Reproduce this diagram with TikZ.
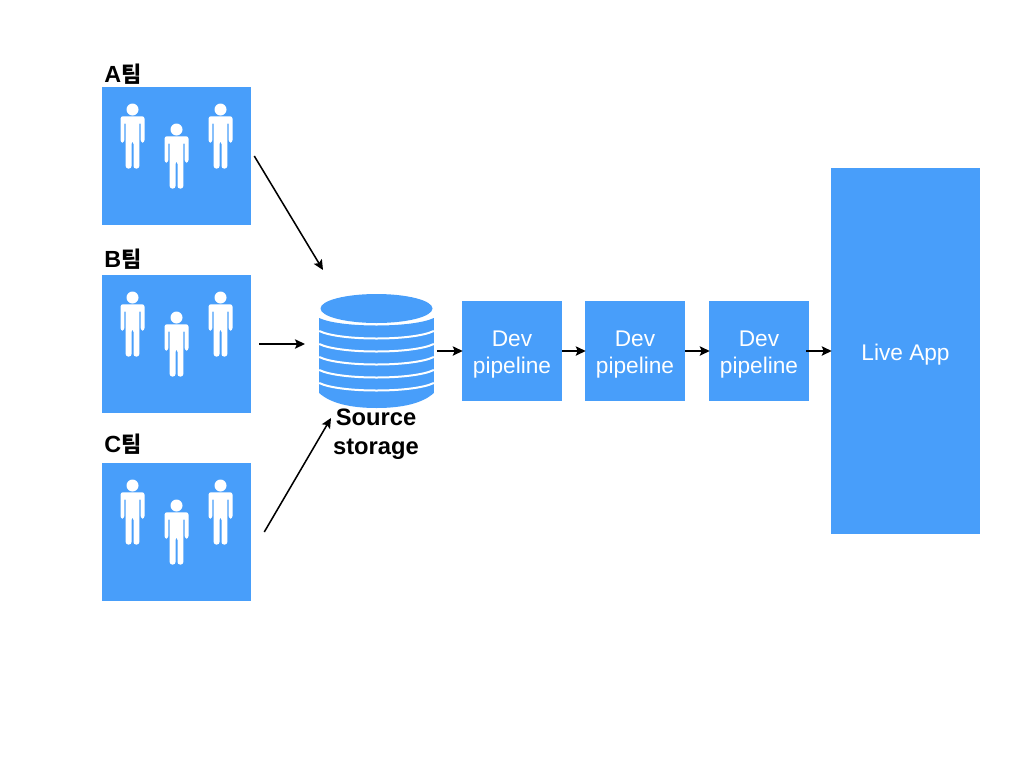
\documentclass[tikz,border=0pt]{standalone}
\usepackage{fontspec}
\setmainfont{Liberation Sans}
\newfontfamily\cjk{Noto Sans CJK KR}
\usetikzlibrary{arrows.meta}
\definecolor{boxblue}{RGB}{72,158,250}
\tikzset{
  bluebox/.style={fill=boxblue,inner sep=0pt,text=white,align=center,font=\fontsize{17}{20.25}\selectfont,execute at begin node=\rule{0pt}{18pt}},
  teambox/.style={fill=boxblue,inner sep=0pt,minimum width=111.75pt,minimum height=103.5pt},
  devbox/.style={bluebox,minimum width=75pt,minimum height=75pt,execute at begin node=\rule{0pt}{38pt}},
  teamlabel/.style={inner sep=0pt,anchor=base west,font=\fontsize{17.5}{20}\selectfont\bfseries},
  flow/.style={-{Stealth[length=7.5pt,width=7pt,inset=1.5pt]},line width=1.15pt},
  person/.pic={
    \fill[white] (0,0) circle (6);
    \fill[white,rounded corners=1.8] (-12,-6.8) -- (12,-6.8) -- (12,-33) -- (8.2,-33) -- (8.2,-12.5) -- (6.8,-12.5) -- (6.8,-59) -- (1,-59) -- (1,-32) -- (-1,-32) -- (-1,-59) -- (-6.8,-59) -- (-6.8,-12.5) -- (-8.2,-12.5) -- (-8.2,-33) -- (-12,-33) -- cycle ;
  },
  band/.style={draw=white,line width=1.5pt}
}
\begin{document}
\begin{tikzpicture}[x=0.75pt,y=0.75pt,yscale=-1,xscale=1]
\useasboundingbox (0,0) rectangle (1024,768);

%Team boxes
\node[teambox] (teamA) at (176.5,156) {};
\node[teambox] (teamB) at (176.5,344) {};
\node[teambox] (teamC) at (176.5,532) {};
\node[teamlabel] (labelA) at (104,82) {A{\cjk\fontsize{16.5}{20}\selectfont\bfseries 팀}};
\node[teamlabel] (labelB) at (104,267) {B{\cjk\fontsize{16.5}{20}\selectfont\bfseries 팀}};
\node[teamlabel] (labelC) at (104,452) {C{\cjk\fontsize{16.5}{20}\selectfont\bfseries 팀}};

%People
\pic at (132.5,109.5) {person};
\pic at (176.5,129.5) {person};
\pic at (220.5,109.5) {person};
\pic at (132.5,297.5) {person};
\pic at (176.5,317.5) {person};
\pic at (220.5,297.5) {person};
\pic at (132.5,485.5) {person};
\pic at (176.5,505.5) {person};
\pic at (220.5,485.5) {person};

%Source storage
\node[inner sep=0pt,minimum width=86.25pt,minimum height=86.25pt] (storage) at (376.5,351) {};
\fill[boxblue] (319.2,318) -- (319.2,393) .. controls (330,403) and (350,408) .. (376.5,408) .. controls (403,408) and (423,403) .. (433.8,393) -- (433.8,318) .. controls (413,328) and (340,328) .. (319.2,318) -- cycle ;
\draw[band] (319.2,331) .. controls (340,341) and (413,341) .. (433.8,331) ;
\draw[band] (319.2,344) .. controls (340,354) and (413,354) .. (433.8,344) ;
\draw[band] (319.2,357) .. controls (340,367) and (413,367) .. (433.8,357) ;
\draw[band] (319.2,370) .. controls (340,380) and (413,380) .. (433.8,370) ;
\draw[band] (319.2,383) .. controls (340,393) and (413,393) .. (433.8,383) ;
\fill[boxblue] (376.5,308.5) ellipse (56 and 14.5);
\node[align=center,inner sep=0pt,font=\fontsize{17.8}{21.75}\selectfont\bfseries] (storagelabel) at (376,434.5) {Source\\storage};

%Pipeline
\node[devbox] (devA) at (512,351) {Dev\\pipeline};
\node[devbox] (devB) at (635,351) {Dev\\pipeline};
\node[devbox] (devC) at (759,351) {Dev\\pipeline};
\node[bluebox,minimum width=111.75pt,minimum height=274.5pt] (live) at (905.5,351) {Live App};

%Free ends of the team arrows
\coordinate (inA) at (323,270);
\coordinate (inB) at (305,344);
\coordinate (inC) at (331,418);

\draw[flow] ([xshift=2.25pt]teamA.east) -- (inA);
\draw[flow] ([xshift=6pt]teamB.east) -- (inB);
\draw[flow] ([xshift=9.75pt]teamC.east) -- (inC);
\draw[flow,shorten <=2pt] (storage.east) -- ([xshift=0.75pt]devA.west);
\draw[flow] (devA.east) -- ([xshift=0.75pt]devB.west);
\draw[flow] (devB.east) -- ([xshift=0.75pt]devC.west);
\draw[flow] ([xshift=-2.25pt]devC.east) -- ([xshift=0.75pt]live.west);
\end{tikzpicture}
\end{document}
